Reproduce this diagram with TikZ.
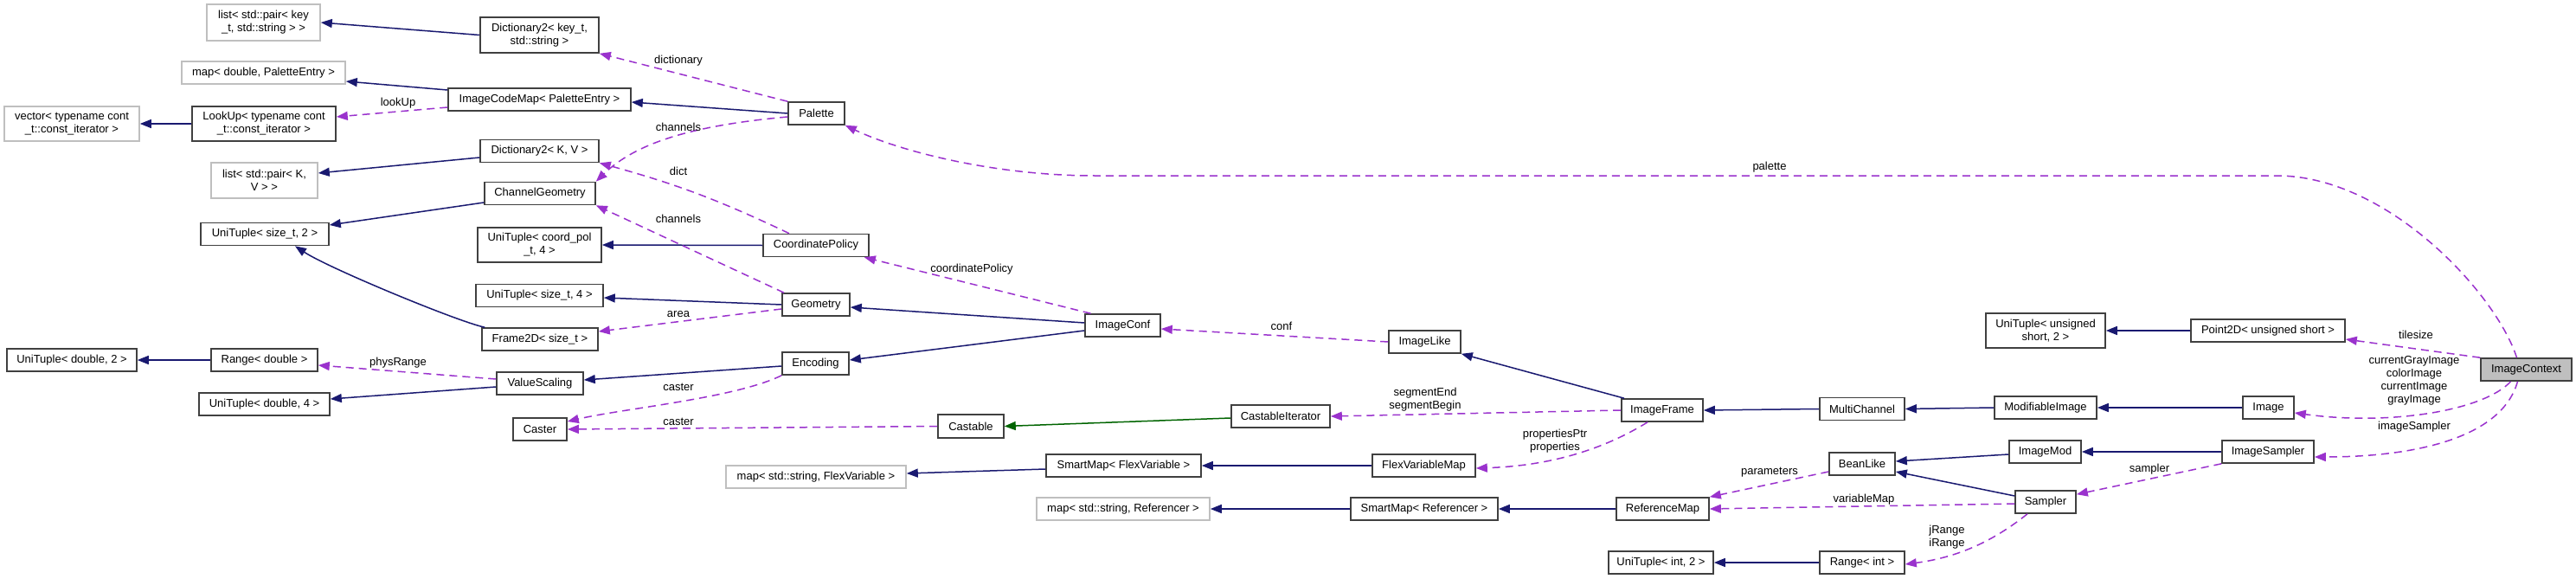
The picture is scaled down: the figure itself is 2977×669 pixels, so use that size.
\documentclass[tikz,border=0pt]{standalone}
\usepackage{fontspec}
\setmainfont{Liberation Sans}
\usepackage{tikz}
\usetikzlibrary{arrows.meta}
\definecolor{DoxNavy}{RGB}{25, 25, 112}
\definecolor{DoxPurple}{RGB}{154, 50, 205}
\definecolor{DoxGreen}{RGB}{0, 100, 0}
\newcommand{\dxfont}{\fontsize{13}{15}\selectfont}
\tikzset{
  cls/.style={draw=black!75, line width=1.6pt, fill=white, inner sep=0pt, align=center, font=\dxfont},
  ext/.style={cls, draw=black!25},
  focus/.style={cls, fill=black!25},
  inh/.style={draw=DoxNavy, line width=1.5pt, -{Triangle[length=13pt, width=10pt]}},
  prot/.style={inh, draw=DoxGreen},
  dep/.style={draw=DoxPurple, line width=1.5pt, dash pattern=on 9pt off 6pt, -{Triangle[length=13pt, width=10pt]}},
  lbl/.style={font=\dxfont, inner sep=0pt, align=center}
}

\begin{document}
\begin{tikzpicture}[x=1pt, y=-1pt]
    \useasboundingbox (0,0) rectangle (2977,669);

    % 左侧列
    \node[ext, minimum width=156pt, minimum height=40pt] (vecIter) at (83,143) {vector< typename cont\\\_t::const\_iterator >};
    \node[cls, minimum width=150pt, minimum height=26pt] (uniDouble2) at (83,416) {UniTuple< double, 2 >};

    \node[ext, minimum width=131pt, minimum height=42pt] (listKey) at (304.5,26) {list< std::pair< key\\\_t, std::string > >};
    \node[ext, minimum width=189pt, minimum height=26pt] (mapDouble) at (304.5,84) {map< double, PaletteEntry >};
    \node[cls, minimum width=166pt, minimum height=40pt] (lookUp) at (305,143) {LookUp< typename cont\\\_t::const\_iterator >};
    \node[ext, minimum width=123pt, minimum height=41pt] (listKV) at (305.5,208.5) {list< std::pair< K,\\V > >};
    \node[cls, minimum width=148pt, minimum height=26pt] (uniSize2) at (306,270.5) {UniTuple< size\_t, 2 >};
    \node[cls, minimum width=123pt, minimum height=26pt] (rangeDouble) at (305.5,416) {Range< double >};
    \node[cls, minimum width=151pt, minimum height=26pt] (uniDouble4) at (305.5,467) {UniTuple< double, 4 >};

    \node[cls, minimum width=137pt, minimum height=41pt] (dictKey) at (623.5,40.5) {Dictionary2< key\_t,\\std::string >};
    \node[cls, minimum width=211pt, minimum height=26pt] (imageCodeMap) at (623.5,115) {ImageCodeMap< PaletteEntry >};
    \node[cls, minimum width=137pt, minimum height=26pt] (dictKV) at (623.5,174.5) {Dictionary2< K, V >};
    \node[cls, minimum width=128pt, minimum height=26pt] (channelGeometry) at (624,223.5) {ChannelGeometry};
    \node[cls, minimum width=143pt, minimum height=40pt] (uniCoord4) at (623.5,283) {UniTuple< coord\_pol\\\_t, 4 >};
    \node[cls, minimum width=147pt, minimum height=26pt] (uniSize4) at (623.5,341.5) {UniTuple< size\_t, 4 >};
    \node[cls, minimum width=134pt, minimum height=26pt] (frame2D) at (624,392) {Frame2D< size\_t >};
    \node[cls, minimum width=100pt, minimum height=26pt] (valueScaling) at (624,443) {ValueScaling};
    \node[cls, minimum width=62pt, minimum height=26pt] (caster) at (624,496) {Caster};

    \node[cls, minimum width=65pt, minimum height=26pt] (palette) at (943.5,131) {Palette};
    \node[cls, minimum width=122pt, minimum height=26pt] (coordinatePolicy) at (943,283.5) {CoordinatePolicy};
    \node[cls, minimum width=78pt, minimum height=26pt] (geometry) at (943,352) {Geometry};
    \node[cls, minimum width=77pt, minimum height=26pt] (encoding) at (942.5,420) {Encoding};
    \node[ext, minimum width=208pt, minimum height=26pt] (mapFlex) at (943,551) {map< std::string, FlexVariable >};

    % 中间列
    \node[cls, minimum width=87pt, minimum height=26pt] (imageConf) at (1297.5,376) {ImageConf};
    \node[cls, minimum width=76pt, minimum height=27pt] (castable) at (1122,492.5) {Castable};
    \node[cls, minimum width=179pt, minimum height=26pt] (smartFlex) at (1298.5,538) {SmartMap< FlexVariable >};
    \node[ext, minimum width=200pt, minimum height=26pt] (mapRef) at (1298,588) {map< std::string, Referencer >};

    \node[cls, minimum width=83pt, minimum height=26pt] (imageLike) at (1646.5,395) {ImageLike};
    \node[cls, minimum width=114pt, minimum height=26pt] (castableIter) at (1480,481) {CastableIterator};
    \node[cls, minimum width=119pt, minimum height=26pt] (flexVariableMap) at (1645.5,538) {FlexVariableMap};
    \node[cls, minimum width=170pt, minimum height=26pt] (smartRef) at (1646,588) {SmartMap< Referencer >};

    \node[cls, minimum width=94pt, minimum height=26pt] (imageFrame) at (1921,474) {ImageFrame};
    \node[cls, minimum width=107pt, minimum height=26pt] (referenceMap) at (1921.5,588) {ReferenceMap};
    \node[cls, minimum width=121pt, minimum height=26pt] (uniInt2) at (1919.5,650) {UniTuple< int, 2 >};

    % 右侧列
    \node[cls, minimum width=98pt, minimum height=26pt] (multiChannel) at (2152,472.5) {MultiChannel};
    \node[cls, minimum width=76pt, minimum height=26pt] (beanLike) at (2152,536) {BeanLike};
    \node[cls, minimum width=98pt, minimum height=26pt] (rangeInt) at (2152,650) {Range< int >};

    \node[cls, minimum width=138pt, minimum height=40pt] (uniUShort2) at (2364,382) {UniTuple< unsigned\\short, 2 >};
    \node[cls, minimum width=118pt, minimum height=26pt] (modifiableImage) at (2364,471) {ModifiableImage};
    \node[cls, minimum width=83pt, minimum height=26pt] (imageMod) at (2363.5,522) {ImageMod};
    \node[cls, minimum width=70pt, minimum height=26pt] (sampler) at (2364,580) {Sampler};

    \node[cls, minimum width=178pt, minimum height=26pt] (point2D) at (2621,382) {Point2D< unsigned short >};
    \node[cls, minimum width=59pt, minimum height=26pt] (image) at (2621.5,471) {Image};
    \node[cls, minimum width=106pt, minimum height=26pt] (imageSampler) at (2621,522) {ImageSampler};

    \node[focus, minimum width=105pt, minimum height=26pt] (imageContext) at (2919.5,427) {ImageContext};

    % 继承关系
    \draw[inh] (dictKey.west) -- (listKey.east);
    \draw[inh] ([yshift=11pt]imageCodeMap.west) -- ([yshift=-10pt]mapDouble.east);
    \draw[inh] (palette.west) -- ([yshift=-3pt]imageCodeMap.east);
    \draw[inh] (lookUp.west) -- (vecIter.east);
    \draw[inh] ([yshift=-7.5pt]dictKV.west) -- ([yshift=8.5pt]listKV.east);
    \draw[inh] ([yshift=-10.5pt]channelGeometry.west) -- ([yshift=10.5pt]uniSize2.east);
    \draw[inh] (coordinatePolicy.west) -- (uniCoord4.east);
    \draw[inh] (geometry.west) -- ([yshift=-2.5pt]uniSize4.east);
    \draw[inh] ([xshift=4pt]frame2D.north west) .. controls (530,372) and (380,310) .. ([xshift=35pt]uniSize2.south);
    \draw[inh] (rangeDouble.west) -- (uniDouble2.east);
    \draw[inh] ([yshift=-4pt]valueScaling.west) -- ([yshift=6pt]uniDouble4.east);
    \draw[inh] ([yshift=-3pt]encoding.west) -- ([yshift=4pt]valueScaling.east);
    \draw[inh] ([yshift=3pt]imageConf.west) -- ([yshift=-3pt]geometry.east);
    \draw[inh] ([yshift=-6pt]imageConf.west) -- ([yshift=4pt]encoding.east);
    \draw[inh] ([xshift=-44pt]imageFrame.north) -- (imageLike.south east);
    \draw[inh] (multiChannel.west) -- (imageFrame.east);
    \draw[inh] (modifiableImage.west) -- (multiChannel.east);
    \draw[inh] (image.west) -- (modifiableImage.east);
    \draw[inh] ([yshift=-4pt]smartFlex.west) -- ([yshift=4pt]mapFlex.east);
    \draw[inh] (flexVariableMap.west) -- (smartFlex.east);
    \draw[inh] (smartRef.west) -- (mapRef.east);
    \draw[inh] (referenceMap.west) -- (smartRef.east);
    \draw[inh] (point2D.west) -- (uniUShort2.east);
    \draw[inh] ([yshift=-3pt]imageMod.west) -- ([yshift=3pt]beanLike.east);
    \draw[inh] ([yshift=7pt]sampler.west) -- ([yshift=-9pt]beanLike.east);
    \draw[inh] (imageSampler.west) -- (imageMod.east);
    \draw[inh] (rangeInt.west) -- (uniInt2.east);
    \draw[prot] ([yshift=-2pt]castableIter.west) -- (castable.east);

    % 成员引用 (虚线)
    \draw[dep] (palette.north west) -- (dictKey.south east) node[lbl] at (784,70) {dictionary};
    \draw[dep] ([yshift=-9pt]imageCodeMap.west) -- ([yshift=8pt]lookUp.east) node[lbl] at (460,119) {lookUp};
    \draw[dep] ([yshift=-4pt]palette.west) .. controls (800,145) and (735,165) .. (channelGeometry.north east) node[lbl] at (784,147) {channels};
    \draw[dep] ([xshift=-31pt]coordinatePolicy.north) to[bend right=5] (dictKV.south east) node[lbl] at (784,198) {dict};
    \draw[dep] ([xshift=-37pt]geometry.north) -- (channelGeometry.south east) node[lbl] at (784,253) {channels};
    \draw[dep] ([yshift=-5pt]geometry.west) -- ([yshift=9pt]frame2D.east) node[lbl] at (784,363) {area};
    \draw[dep] ([yshift=5pt]valueScaling.west) -- ([yshift=-6pt]rangeDouble.east) node[lbl] at (460,419) {physRange};
    \draw[dep] (encoding.south west) .. controls (850,460) and (720,472) .. ([yshift=9pt]caster.east) node[lbl] at (784,447) {caster};
    \draw[dep] (castable.west) -- (caster.east) node[lbl] at (784,487) {caster};
    \draw[dep] ([xshift=-37pt]imageConf.north) -- ([xshift=-6pt]coordinatePolicy.south east) node[lbl] at (1123,311) {coordinatePolicy};
    \draw[dep] (imageLike.west) -- ([yshift=-4pt]imageConf.east) node[lbl] at (1481,377) {conf};
    \draw[dep] (imageFrame.west) -- (castableIter.east) node[lbl] at (1647,462) {segmentEnd\\segmentBegin};
    \draw[dep] ([xshift=-17pt]imageFrame.south) .. controls (1860,515) and (1800,538) .. ([yshift=-3pt]flexVariableMap.east) node[lbl] at (1797,510) {propertiesPtr\\properties};
    \draw[dep] ([yshift=-9pt]beanLike.west) -- (referenceMap.north east) node[lbl] at (2045,546) {parameters};
    \draw[dep] ([yshift=-2pt]sampler.west) -- (referenceMap.east) node[lbl] at (2154,577) {variableMap};
    \draw[dep] ([xshift=-21pt]sampler.south) .. controls (2310,620) and (2270,643) .. ([yshift=-2pt]rangeInt.east) node[lbl] at (2250,621) {jRange\\iRange};
    \draw[dep] (imageSampler.south west) -- ([yshift=-5pt]sampler.north east) node[lbl] at (2484,542) {sampler};
    \draw[dep] ([xshift=-11pt]imageContext.north) .. controls (2885,340) and (2760,203) .. (2631,203) -- (1265,203) .. controls (1150,203) and (1040,175) .. (palette.south east) node[lbl] at (2045,193) {palette};
    \draw[dep] (imageContext.north west) -- ([yshift=-10pt]point2D.east) node[lbl] at (2792,387) {tilesize};
    \draw[dep] ([xshift=-18pt]imageContext.south) .. controls (2870,475) and (2760,492) .. ([yshift=-6pt]image.east) node[lbl] at (2790,440) {currentGrayImage\\colorImage\\currentImage\\grayImage};
    \draw[dep] ([xshift=-10pt]imageContext.south) .. controls (2890,510) and (2780,528) .. ([yshift=-6pt]imageSampler.east) node[lbl] at (2790,493) {imageSampler};
\end{tikzpicture}
\end{document}
